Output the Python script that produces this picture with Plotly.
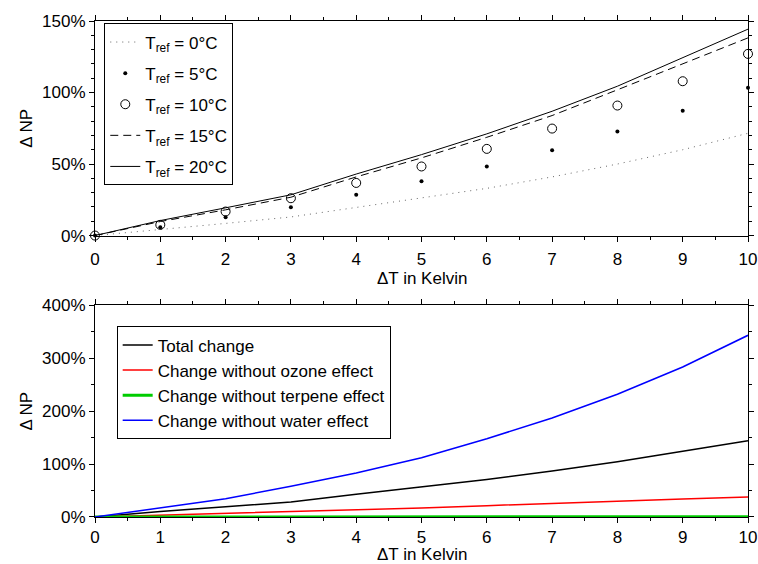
import plotly.graph_objects as go

dT = [0, 1, 2, 3, 4, 5, 6, 7, 8, 9, 10]

# Top panel: relative change of NP for different reference temperatures (%)
np_tref0 = [0, 4.0, 8.5, 13.0, 19.5, 26.5, 33.0, 41.0, 50.0, 60.0, 71.5]
np_tref5 = [0, 5.8, 12.8, 19.8, 28.5, 38.0, 48.3, 59.7, 72.7, 87.2, 103.3]
np_tref10 = [0, 7.5, 16.8, 26.1, 36.8, 48.3, 60.6, 74.8, 90.9, 107.9, 127.0]
np_tref15 = [0, 9.8, 18.0, 26.8, 41.0, 54.3, 68.7, 83.9, 101.9, 120.0, 138.2]
np_tref20 = [0, 10.5, 19.4, 28.5, 43.0, 56.6, 71.1, 86.9, 104.4, 124.3, 144.3]

# Bottom panel: decomposition (%)
total_change = [0, 10.5, 19.4, 28.5, 43.0, 56.6, 71.1, 86.9, 104.4, 124.3, 144.3]
no_ozone = [0, 3.2, 6.3, 10.0, 12.7, 17.0, 21.5, 26.0, 30.0, 34.0, 37.8]
no_terpene = [0, 0.1, 0.1, 0.2, 0.2, 0.2, 0.3, 0.3, 0.3, 0.4, 0.4]
no_water = [0, 17.0, 34.5, 58.0, 83.0, 112.0, 148.0, 187.0, 232.0, 283.5, 343.5]

top_tickvals = [0, 50, 100, 150]
top_ticktext = ["0%", "50%", "100%", "150%"]
bot_tickvals = [0, 100, 200, 300, 400]
bot_ticktext = ["0%", "100%", "200%", "300%", "400%"]

FONT = "Liberation Sans, Arial, sans-serif"
FS = 17

fig = go.Figure()

# top traces
fig.add_trace(go.Scatter(x=dT, y=np_tref0, mode="lines", name="T<sub>ref</sub> = 0°C",
                         line=dict(color="#666666", width=1, dash="1px,5px"), legend="legend",
                         legendgroup="a", xaxis="x", yaxis="y"))
fig.add_trace(go.Scatter(x=dT, y=np_tref5, mode="markers", name="T<sub>ref</sub> = 5°C",
                         marker=dict(color="black", size=4, symbol="circle"), legend="legend",
                         legendgroup="b", cliponaxis=False, xaxis="x", yaxis="y"))
fig.add_trace(go.Scatter(x=dT, y=np_tref10, mode="markers", name="T<sub>ref</sub> = 10°C",
                         marker=dict(color="black", size=9, symbol="circle-open", line=dict(width=1)),
                         legend="legend", legendgroup="c", cliponaxis=False, xaxis="x", yaxis="y"))
fig.add_trace(go.Scatter(x=dT, y=np_tref15, mode="lines", name="T<sub>ref</sub> = 15°C",
                         line=dict(color="black", width=1, dash="8px,5px"), legend="legend",
                         legendgroup="d", xaxis="x", yaxis="y"))
fig.add_trace(go.Scatter(x=dT, y=np_tref20, mode="lines", name="T<sub>ref</sub> = 20°C",
                         line=dict(color="black", width=1), legend="legend",
                         legendgroup="e", xaxis="x", yaxis="y"))

# bottom traces
fig.add_trace(go.Scatter(x=dT, y=total_change, mode="lines", name="Total change",
                         line=dict(color="black", width=1.5), legend="legend2",
                         xaxis="x2", yaxis="y2"))
fig.add_trace(go.Scatter(x=dT, y=no_ozone, mode="lines", name="Change without ozone effect",
                         line=dict(color="#ff0000", width=1.5), legend="legend2",
                         xaxis="x2", yaxis="y2"))
fig.add_trace(go.Scatter(x=dT, y=no_terpene, mode="lines", name="Change without terpene effect",
                         line=dict(color="#00cc00", width=3), legend="legend2",
                         cliponaxis=False, xaxis="x2", yaxis="y2"))
fig.add_trace(go.Scatter(x=dT, y=no_water, mode="lines", name="Change without water effect",
                         line=dict(color="#0000ff", width=1.5), legend="legend2",
                         xaxis="x2", yaxis="y2"))

def xaxis_cfg(anchor, standoff):
    return dict(anchor=anchor, domain=[0, 1], range=[0, 10], dtick=1, tick0=0, showline=True,
                linecolor="black", linewidth=1, mirror="allticks", ticks="outside", ticklen=5,
                tickcolor="black", showgrid=False, zeroline=False, automargin=False,
                layer="below traces", ticklabelstandoff=standoff,
                tickfont=dict(size=FS, color="black"),
                minor=dict(dtick=0.5, ticks="outside", ticklen=3, tickcolor="black", showgrid=False))

def yaxis_cfg(anchor, domain, rng, vals, text, minor_dtick):
    return dict(anchor=anchor, domain=domain, range=rng, tickmode="array", tickvals=vals,
                ticktext=text, showline=True, linecolor="black", linewidth=1, mirror="allticks",
                ticks="outside", ticklen=5, tickcolor="black", showgrid=False, zeroline=False,
                automargin=False, tickfont=dict(size=FS, color="black"),
                minor=dict(dtick=minor_dtick, ticks="outside", ticklen=3, tickcolor="black",
                           showgrid=False),
                title=dict(text="Δ NP", font=dict(size=FS, color="black"), standoff=5))

fig.update_layout(
    width=758, height=564,
    margin=dict(l=95, r=10, t=21, b=47, autoexpand=False),
    paper_bgcolor="white", plot_bgcolor="white",
    font=dict(family=FONT, size=FS, color="black"),
    xaxis=xaxis_cfg("y", 3),
    yaxis=yaxis_cfg("x", [0.5674, 1], [0, 150], top_tickvals, top_ticktext, 10),
    xaxis2=xaxis_cfg("y2", 0),
    yaxis2=yaxis_cfg("x2", [0, 0.4266], [0, 400], bot_tickvals, bot_ticktext, 50),
    legend=dict(x=0.0142, y=0.995, xanchor="left", yanchor="top", bordercolor="black",
                borderwidth=1, bgcolor="white", font=dict(size=FS, color="black"),
                tracegroupgap=6),
    legend2=dict(x=0.0332, y=0.3843, xanchor="left", yanchor="top", bordercolor="black",
                 borderwidth=1, bgcolor="white", font=dict(size=FS, color="black")),
    showlegend=True,
    annotations=[
        dict(text="ΔT in Kelvin", xref="x domain", yref="y domain", x=0.5, y=0,
             xanchor="center", yanchor="middle", yshift=-43, showarrow=False,
             font=dict(size=FS, color="black")),
        dict(text="ΔT in Kelvin", xref="x2 domain", yref="y2 domain", x=0.5, y=0,
             xanchor="center", yanchor="middle", yshift=-37, showarrow=False,
             font=dict(size=FS, color="black")),
    ],
)

fig.write_html("out.html", config={"displayModeBar": False},
               post_script="document.body.style.margin='0';document.body.style.overflow='hidden';")
